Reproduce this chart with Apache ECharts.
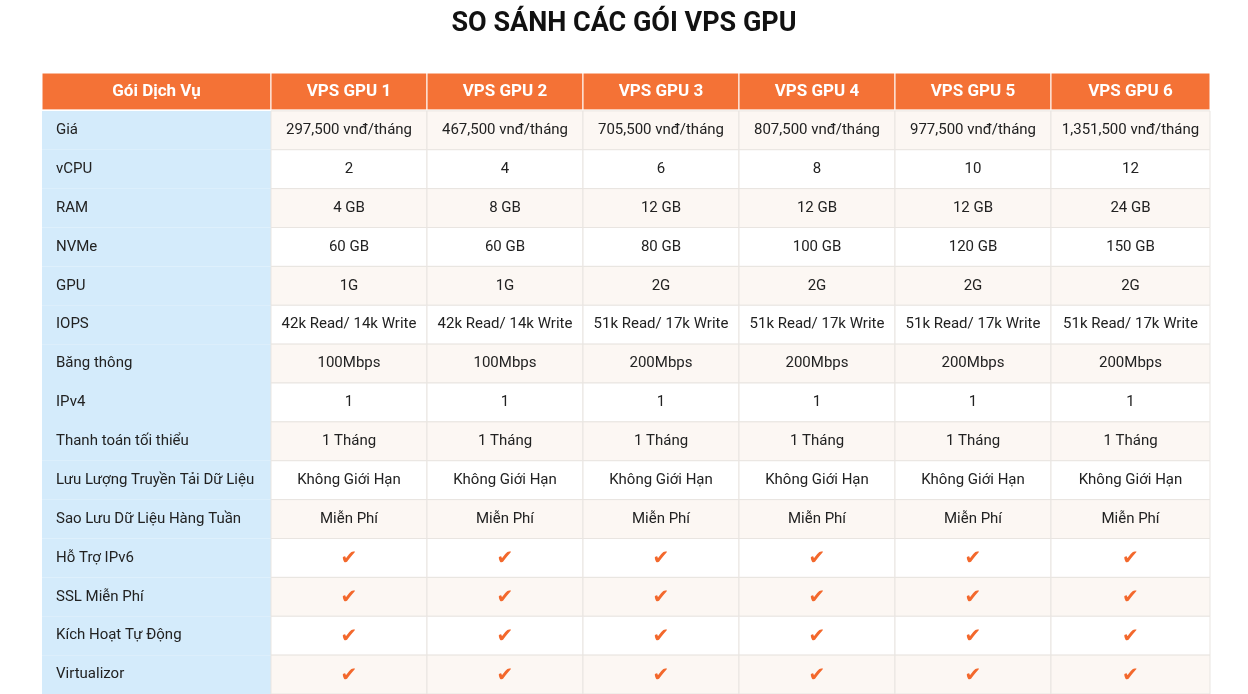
<!DOCTYPE html>
<html>
<head>
<meta charset="utf-8">
<script src="https://cdn.jsdelivr.net/npm/echarts@6/dist/echarts.min.js"></script>
<style>html,body{margin:0;padding:0;background:#fff}#main{width:1248px;height:694px}</style>
</head>
<body>
<div id="main"></div>
<script>
var headers = ['Gói Dịch Vụ', 'VPS GPU 1', 'VPS GPU 2', 'VPS GPU 3', 'VPS GPU 4', 'VPS GPU 5', 'VPS GPU 6'];
var rowLabels = ['Giá', 'vCPU', 'RAM', 'NVMe', 'GPU', 'IOPS', 'Băng thông', 'IPv4', 'Thanh toán tối thiểu',
    'Lưu Lượng Truyền Tải Dữ Liệu', 'Sao Lưu Dữ Liệu Hàng Tuần', 'Hỗ Trợ IPv6', 'SSL Miễn Phí', 'Kích Hoạt Tự Động', 'Virtualizor'];
var price = ['297,500 vnđ/tháng', '467,500 vnđ/tháng', '705,500 vnđ/tháng', '807,500 vnđ/tháng', '977,500 vnđ/tháng', '1,351,500 vnđ/tháng'];
var vcpu = ['2', '4', '6', '8', '10', '12'];
var ram = ['4 GB', '8 GB', '12 GB', '12 GB', '12 GB', '24 GB'];
var nvme = ['60 GB', '60 GB', '80 GB', '100 GB', '120 GB', '150 GB'];
var gpu = ['1G', '1G', '2G', '2G', '2G', '2G'];
var iops = ['42k Read/ 14k Write', '42k Read/ 14k Write', '51k Read/ 17k Write', '51k Read/ 17k Write', '51k Read/ 17k Write', '51k Read/ 17k Write'];
var bandwidth = ['100Mbps', '100Mbps', '200Mbps', '200Mbps', '200Mbps', '200Mbps'];
var ipv4 = ['1', '1', '1', '1', '1', '1'];
var minPay = ['1 Tháng', '1 Tháng', '1 Tháng', '1 Tháng', '1 Tháng', '1 Tháng'];
var traffic = ['Không Giới Hạn', 'Không Giới Hạn', 'Không Giới Hạn', 'Không Giới Hạn', 'Không Giới Hạn', 'Không Giới Hạn'];
var backup = ['Miễn Phí', 'Miễn Phí', 'Miễn Phí', 'Miễn Phí', 'Miễn Phí', 'Miễn Phí'];
var ipv6 = ['✔', '✔', '✔', '✔', '✔', '✔'];
var ssl = ['✔', '✔', '✔', '✔', '✔', '✔'];
var autoSetup = ['✔', '✔', '✔', '✔', '✔', '✔'];
var virt = ['✔', '✔', '✔', '✔', '✔', '✔'];
var rows = [price, vcpu, ram, nvme, gpu, iops, bandwidth, ipv4, minPay, traffic, backup, ipv6, ssl, autoSetup, virt];

// layout (axis units = px)
var colEdges = [0, 229, 385, 541, 697, 853, 1009, 1168];
var headH = 38, rowH = 39;

var cells = [];
headers.forEach(function (h, c) { cells.push([c, -1, h]); });
rows.forEach(function (r, i) {
    cells.push([0, i, rowLabels[i]]);
    r.forEach(function (v, c) { cells.push([c + 1, i, v]); });
});

function renderItem(params, api) {
    var c = api.value(0), r = api.value(1), txt = cells[params.dataIndex][2];
    var y0 = r < 0 ? 0 : headH + r * rowH, y1 = r < 0 ? headH - 1 : y0 + rowH;
    var p0 = api.coord([colEdges[c], y0]), p1 = api.coord([colEdges[c + 1], y1]);
    var w = p1[0] - p0[0], h = p1[1] - p0[1];
    var fill, color = '#222', font = 15, weight = 'normal', align = 'center', stroke = '#e9e5e1';
    if (r < 0) { fill = '#f47236'; color = '#fff'; font = 17; weight = 'bold'; stroke = '#fff'; }
    else if (c === 0) { fill = '#d4ebfb'; align = 'left'; stroke = null; }
    else fill = r % 2 === 0 ? '#fcf7f3' : '#ffffff';
    var check = txt === '✔';
    var children = [{
        type: 'rect', shape: { x: p0[0], y: p0[1], width: w, height: h },
        style: { fill: fill, stroke: stroke, lineWidth: 1 }
    }, {
        type: 'text',
        style: {
            text: txt, x: align === 'left' ? p0[0] + 14 : p0[0] + w / 2, y: p0[1] + h / 2 + (check ? 1 : 0),
            align: align, verticalAlign: 'middle', fill: check ? '#f3682c' : color,
            fontSize: check ? 20 : font, fontWeight: weight,
            fontFamily: check ? 'DejaVu Sans' : 'Roboto'
        }
    }];
    return { type: 'group', children: children };
}

var chart = echarts.init(document.getElementById('main'));
chart.setOption({
    animation: false,
    title: {
        text: 'SO SÁNH CÁC GÓI VPS GPU', left: 'center', top: 6,
        textStyle: { fontFamily: 'Roboto', fontSize: 27, fontWeight: 'bold', color: '#111' }
    },
    grid: { left: 42, right: 38, top: 73, height: headH + rows.length * rowH },
    xAxis: { type: 'value', min: 0, max: 1168, show: false },
    yAxis: { type: 'value', min: 0, max: headH + rows.length * rowH, inverse: true, show: false },
    series: [{ type: 'custom', renderItem: renderItem, data: cells.map(function (d) { return [d[0], d[1]]; }), clip: false }]
});
</script>
</body>
</html>
